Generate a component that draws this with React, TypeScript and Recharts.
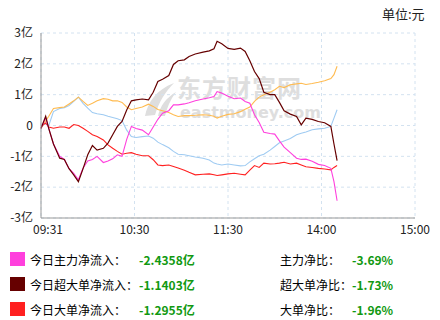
import { CartesianGrid, Line, LineChart, XAxis, YAxis } from 'recharts';

// minutes since 09:31 (lunch break removed, 240 = 15:00)
const minutes = [
  0, 3, 5, 8, 12, 15, 18, 21, 24, 27, 30, 33, 36, 40, 43, 46, 49, 52, 55, 58,
  61, 65, 69, 72, 75, 78, 82, 85, 88, 92, 95, 99, 104, 108, 111, 113, 116, 120,
  124, 128, 131, 134, 137, 140, 143, 147, 150, 153, 156, 160, 164, 167, 170,
  174, 178, 182, 186, 188, 190,
];
const timeTicks = [0, 60, 120, 180, 240];
const timeLabels = ['09:31', '10:30', '11:30', '14:00', '15:00'];
const yTicks = [-3, -2, -1, 0, 1, 2, 3];

// 亿元
const mainIn = [
  -0.1, 0.25, -0.1, -0.6, -1.0, -1.1, -1.4, -1.55, -1.76, -1.38, -1.15, -1.1,
  -1.0, -1.2, -1.15, -1.08, -0.95, -1.0, -0.45, -0.03, -0.1, -0.15, -0.3,
  -0.05, 0.2, 0.4, 0.48, 0.67, 0.67, 0.7, 0.74, 0.8, 0.86, 0.9, 0.94, 1.1,
  1.05, 0.95, 0.87, 0.89, 0.78, 0.72, 0.35, 0.1, -0.22, -0.26, -0.28, -0.5,
  -0.7, -0.88, -1.06, -1.1, -1.09, -1.16, -1.26, -1.3, -1.39, -1.82, -2.44,
];
const superIn = [
  -0.1, 0.3, -0.1, -0.6, -1.06, -1.1, -1.4, -1.6, -1.82, -1.4, -0.95, -0.65,
  -0.8, -0.74, -0.57, -0.3, -0.03, 0.13, 0.5, 0.8, 0.83, 0.86, 0.83, 1.08,
  1.43, 1.5, 1.62, 1.98, 2.1, 2.13, 2.24, 2.32, 2.38, 2.42, 2.49, 2.73, 2.65,
  2.5, 2.47, 2.51, 2.4, 2.1, 1.75, 1.52, 1.08, 1.0, 1.0, 0.75, 0.48, 0.37,
  0.29, 0.02, 0.24, 0.2, 0.13, 0.09, -0.03, -0.6, -1.14,
];
const bigIn = [
  -0.03, 0.08, -0.05, -0.09, -0.05, -0.05, -0.09, 0.03, 0.0, -0.09, -0.19,
  -0.3, -0.36, -0.47, -0.63, -0.74, -0.84, -0.93, -0.9, -0.88, -0.93, -0.98,
  -0.98, -1.11, -1.28, -1.3, -1.28, -1.33, -1.38, -1.45, -1.52, -1.6, -1.58,
  -1.57, -1.6, -1.62, -1.6, -1.57, -1.55, -1.58, -1.6, -1.45, -1.3, -1.36,
  -1.22, -1.25, -1.24, -1.22, -1.19, -1.25, -1.22, -1.28, -1.34, -1.36, -1.39,
  -1.41, -1.44, -1.36, -1.3,
];
const midIn = [
  -0.09, 0.15, 0.3, 0.55, 0.58, 0.6, 0.7, 0.8, 0.92, 0.78, 0.65, 0.72, 0.8,
  0.87, 0.85, 0.8, 0.8, 0.75, 0.6, 0.51, 0.55, 0.6, 0.69, 0.62, 0.52, 0.48,
  0.42, 0.35, 0.29, 0.32, 0.32, 0.33, 0.35, 0.33, 0.3, 0.24, 0.3, 0.36, 0.38,
  0.45, 0.53, 0.6, 0.78, 0.92, 1.0, 1.08, 1.16, 1.27, 1.23, 1.32, 1.35, 1.37,
  1.33, 1.36, 1.4, 1.45, 1.52, 1.65, 1.92,
];
const smallIn = [
  0.02, 0.05, 0.0, 0.45, 0.55, 0.58, 0.65, 0.78, 0.92, 0.72, 0.56, 0.42, 0.38,
  0.35, 0.3, 0.26, 0.22, 0.16, -0.15, -0.36, -0.39, -0.36, -0.34, -0.41, -0.54,
  -0.62, -0.72, -0.84, -0.93, -0.95, -0.98, -1.02, -1.06, -1.12, -1.22, -1.25,
  -1.28, -1.25, -1.28, -1.31, -1.3, -1.18, -1.08, -0.98, -0.93, -0.8, -0.68,
  -0.56, -0.5, -0.42, -0.3, -0.25, -0.21, -0.14, -0.11, -0.09, -0.03, 0.24,
  0.51,
];

const legendNames = ['今日主力净流入：', '今日超大单净流入：', '今日大单净流入：'];
const legendValues = ['-2.4358亿', '-1.1403亿', '-1.2955亿'];
const ratioNames = ['主力净比：', '超大单净比：', '大单净比：'];
const ratioValues = ['-3.69%', '-1.73%', '-1.96%'];
const legendColors = ['#ff40dd', '#660000', '#ff2020'];

const data = minutes.map((m, i) => ({
  m,
  main: mainIn[i],
  sup: superIn[i],
  big: bigIn[i],
  mid: midIn[i],
  small: smallIn[i],
}));

const font = '"Noto Sans CJK SC", "Noto Sans", sans-serif';
const axisGray = '#999';
const markGray = '#dedede';

// first label sits inside the plot, the others are centred
const TimeTick = (props: any) => {
  const { x, y, payload, index } = props;
  const first = index === 0;
  return (
    <text
      x={first ? x - 8 : x}
      y={y}
      dy="0.71em"
      textAnchor={first ? 'start' : 'middle'}
      fill="#222"
      fontSize={12}
      fontFamily={font}
    >
      {timeLabels[timeTicks.indexOf(payload.value)]}
    </text>
  );
};

const App = () => {
  return (
    <div
      style={{
        position: 'absolute',
        left: 0,
        top: 0,
        width: 440,
        height: 320,
        background: '#fff',
        overflow: 'hidden',
        fontFamily: font,
      }}
    >
      <div style={{ position: 'absolute', left: 382, top: 4, fontSize: 13, color: '#222' }}>
        单位:元
      </div>
      {/* watermark */}
      <svg style={{ position: 'absolute', left: 140, top: 80 }} width={40} height={40}>
        <path d="M5 36 C 8 22, 16 10, 34 3 C 25 12, 19 22, 15 35 Z" fill={markGray} />
        <path d="M18 36 C 20 26, 26 18, 36 12 C 30 20, 27 28, 25 36 Z" fill={markGray} />
      </svg>
      <div
        style={{
          position: 'absolute',
          left: 177,
          top: 75,
          fontSize: 24,
          lineHeight: '24px',
          fontWeight: 700,
          color: markGray,
          letterSpacing: 1,
        }}
      >
        东方财富网
      </div>
      <div
        style={{
          position: 'absolute',
          left: 180,
          top: 105,
          fontSize: 16,
          lineHeight: '16px',
          fontWeight: 700,
          color: markGray,
          fontFamily: '"DejaVu Sans", sans-serif',
        }}
      >
        eastmoney.com
      </div>
      <div style={{ position: 'absolute', left: 0, top: 0 }}>
        <LineChart
          width={440}
          height={240}
          data={data}
          margin={{ top: 33, right: 25, bottom: 0, left: 0 }}
        >
          <CartesianGrid stroke="#d3e2f0" strokeDasharray="3 3" />
          <XAxis
            dataKey="m"
            type="number"
            domain={[0, 240]}
            ticks={timeTicks}
            height={22}
            tickSize={0}
            tickMargin={7}
            stroke={axisGray}
            tick={<TimeTick />}
          />
          <XAxis
            xAxisId="top"
            orientation="top"
            dataKey="m"
            type="number"
            domain={[0, 240]}
            ticks={timeTicks}
            height={0}
            tickSize={3}
            tick={false}
            stroke={axisGray}
          />
          <YAxis
            type="number"
            domain={[-3, 3]}
            ticks={yTicks}
            width={41}
            tickSize={0}
            tickMargin={8}
            tickFormatter={(v) => (v === 0 ? '0' : `${v}亿`)}
            stroke={axisGray}
            tick={{ fill: '#222', fontSize: 12, fontFamily: font }}
          />
          <YAxis
            yAxisId="right"
            orientation="right"
            type="number"
            domain={[-3, 3]}
            ticks={yTicks}
            width={0}
            tick={false}
            tickLine={false}
            stroke={axisGray}
          />
          <Line dataKey="small" stroke="#9fcbf2" strokeWidth={1.1} dot={false} isAnimationActive={false} />
          <Line dataKey="mid" stroke="#ffbb50" strokeWidth={1.1} dot={false} isAnimationActive={false} />
          <Line dataKey="big" stroke="#ff2020" strokeWidth={1.1} dot={false} isAnimationActive={false} />
          <Line dataKey="main" stroke="#ff40dd" strokeWidth={1.1} dot={false} isAnimationActive={false} />
          <Line dataKey="sup" stroke="#660000" strokeWidth={1.2} dot={false} isAnimationActive={false} />
        </LineChart>
      </div>
      {legendNames.map((name, i) => (
        <div
          key={name}
          style={{ position: 'absolute', left: 0, top: 251 + i * 25, height: 16, width: 440, fontSize: 12 }}
        >
          <div
            style={{
              position: 'absolute',
              left: 10,
              top: 1,
              width: 15,
              height: 14,
              background: legendColors[i],
            }}
          />
          <span style={{ position: 'absolute', left: 30, top: 0, color: '#000' }}>{name}</span>
          <span style={{ position: 'absolute', left: 139, top: 0, color: '#119911', fontWeight: 700 }}>
            {legendValues[i]}
          </span>
          <span style={{ position: 'absolute', left: 280, top: 0, color: '#000' }}>{ratioNames[i]}</span>
          <span style={{ position: 'absolute', left: 352, top: 0, color: '#119911', fontWeight: 700 }}>
            {ratioValues[i]}
          </span>
        </div>
      ))}
    </div>
  );
};

export default App;
